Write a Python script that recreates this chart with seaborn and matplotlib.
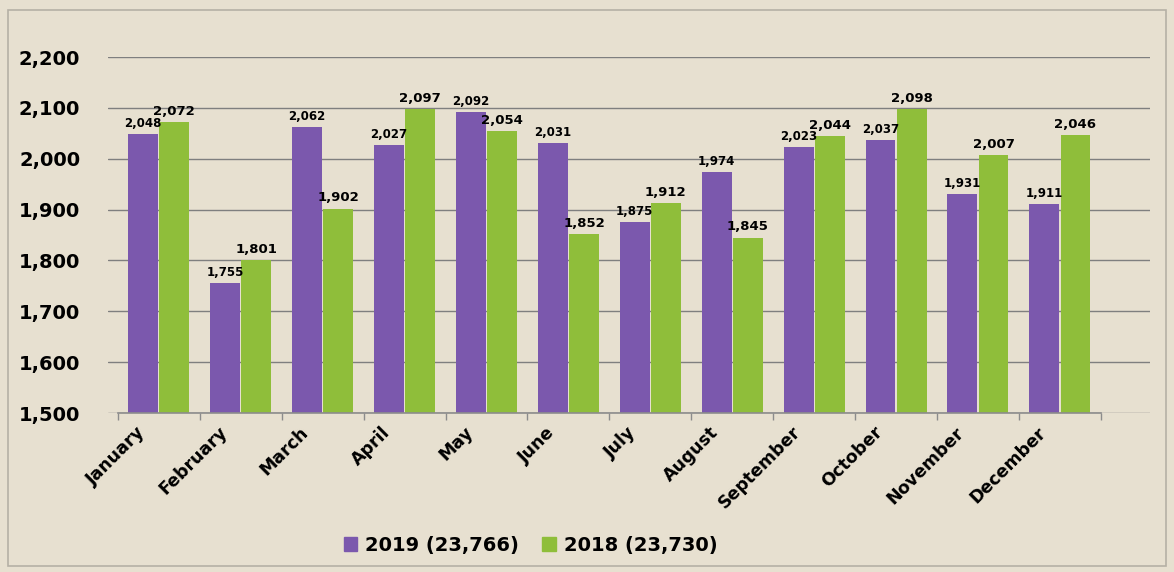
import matplotlib
matplotlib.use("Agg")
import matplotlib.pyplot as plt
import matplotlib.transforms as mtransforms
from matplotlib.patches import Rectangle
import seaborn as sns
import pandas as pd

# data
months = ['January', 'February', 'March', 'April', 'May', 'June',
          'July', 'August', 'September', 'October', 'November', 'December']
vals_2019 = [2048, 1755, 2062, 2027, 2092, 2031, 1875, 1974, 2023, 2037, 1931, 1911]
vals_2018 = [2072, 1801, 1902, 2097, 2054, 1852, 1912, 1845, 2044, 2098, 2007, 2046]
series_names = ['2019 (23,766)', '2018 (23,730)']
y_ticks = [1500, 1600, 1700, 1800, 1900, 2000, 2100, 2200]

df = pd.DataFrame({
    'month': months * 2,
    'value': vals_2019 + vals_2018,
    'series': [series_names[0]] * 12 + [series_names[1]] * 12,
})

bg = '#e7e0d0'
purple = '#7b58ad'
green = '#8fbe3a'

sns.set_style('white')
plt.rcParams['font.family'] = ['DejaVu Sans']
plt.rcParams['text.color'] = 'black'
plt.rcParams['xtick.color'] = 'black'
plt.rcParams['ytick.color'] = 'black'

fig = plt.figure(figsize=(11.74, 5.72), dpi=100, facecolor=bg)
ax = fig.add_axes([108 / 1174, 1 - 413 / 572, (1150 - 108) / 1174, (413 - 57) / 572])
ax.set_facecolor('none')

sns.barplot(data=df, x='month', y='value', hue='series', order=months,
            hue_order=series_names, palette=[purple, green],
            width=0.76, gap=0.04, ax=ax, legend=False, saturation=1,
            edgecolor='none')

ax.set_ylim(1500, 2200)
ax.set_xlim(-0.62, 12.1)
ax.set_yticks(y_ticks)
ax.set_yticklabels([f'{v:,}' for v in y_ticks], fontsize=14, fontweight='bold')
ax.tick_params(axis='y', length=0, pad=20)
ax.yaxis.grid(True, color='#7f7f7f', linewidth=1)
ax.set_axisbelow(True)

ax.set_xticks(range(12))
ax.set_xticklabels(months, rotation=45, ha='right', va='center',
                   rotation_mode='anchor', fontsize=12.5, fontweight='bold')
ax.tick_params(axis='x', which='major', length=0, pad=12)
offset = mtransforms.ScaledTranslation(-12 / 72, 0, fig.dpi_scale_trans)
for lbl in ax.get_xticklabels():
    lbl.set_transform(lbl.get_transform() + offset)

# category boundary ticks on the floor line
ax.set_xticks([i - 0.5 for i in range(13)], minor=True)
ax.tick_params(axis='x', which='minor', bottom=True, length=5,
               color='#8c8c8c', width=1)

for side in ['top', 'right', 'left']:
    ax.spines[side].set_visible(False)
ax.spines['bottom'].set_color('#8c8c8c')
ax.spines['bottom'].set_linewidth(1.2)
ax.spines['bottom'].set_bounds(-0.5, 11.5)
ax.set_xlabel('')
ax.set_ylabel('')

for cont, fs in zip(ax.containers, [8.5, 9.5]):
    ax.bar_label(cont, labels=[f'{v:,.0f}' for v in cont.datavalues],
                 fontsize=fs, fontweight='bold', padding=3, color='black')

handles = [Rectangle((0, 0), 1, 1, color=purple), Rectangle((0, 0), 1, 1, color=green)]
fig.legend(handles, series_names, loc='lower center', bbox_to_anchor=(0.452, 0.0),
           ncol=2, frameon=False, handlelength=0.7, handleheight=0.7,
           handletextpad=0.4, columnspacing=1.2,
           prop={'size': 14, 'weight': 'bold'})

# outer frame
fig.patches.append(Rectangle((8 / 1174, 6 / 572), 1158 / 1174, 556 / 572,
                             transform=fig.transFigure, fill=False,
                             edgecolor='#b5b0a5', linewidth=1.2))

fig.savefig('out.png', dpi=100, facecolor=bg)
